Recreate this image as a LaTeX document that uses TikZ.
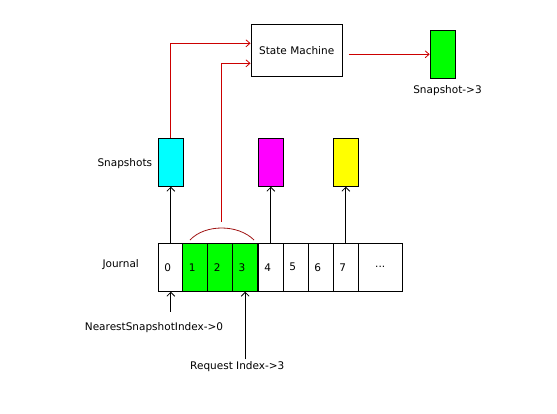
\documentclass[tikz,border=0pt]{standalone}
\usepackage{fontspec}
\setmainfont{DejaVu Sans}
\usetikzlibrary{arrows.meta}
\definecolor{lnred}{RGB}{204,0,0}
\definecolor{arcred}{RGB}{160,20,20}
\definecolor{bcyan}{RGB}{0,255,255}
\definecolor{bmag}{RGB}{255,0,255}
\definecolor{byel}{RGB}{255,255,0}
\definecolor{bgreen}{RGB}{0,255,0}
\tikzset{
  lbl/.style={font=\fontsize{10.5}{12}\selectfont, inner sep=0pt},
  cell/.style={draw=black, line width=1pt, minimum height=48pt, text width=13pt,
    inner xsep=6pt, inner ysep=0pt, align=left, font=\fontsize{10.5}{12}\selectfont},
  snapbox/.style={draw=black, line width=1pt, minimum width=25pt, minimum height=48pt, inner sep=0pt},
  blackarrow/.style={draw=black, line width=0.8pt, -{Straight Barb[length=4pt,width=8pt]}},
  redarrow/.style={draw=lnred, line width=0.8pt, -{Straight Barb[length=4pt,width=7pt]}},
}
\begin{document}
\begin{tikzpicture}[x=1pt,y=-1pt]
\useasboundingbox (0,0) rectangle (557,413);
% journal cells
\node[cell] (c0) at (170.8,267.2) {0};
\node[cell, fill=bgreen] (c1) at (195.3,267.2) {1};
\node[cell, fill=bgreen] (c2) at (220.3,267.2) {2};
\node[cell, fill=bgreen] (c3) at (245.2,267.2) {3};
\node[cell] (c4) at (270.8,267.2) {4};
\node[cell] (c5) at (295.8,267.2) {5};
\node[cell] (c6) at (320.8,267.2) {6};
\node[cell] (c7) at (345.8,267.2) {7};
\node[draw=black, line width=1pt, minimum width=44pt, minimum height=48pt, inner sep=0pt,
  font=\fontsize{10.5}{12}\selectfont] (cdots) at (380.2,267.2) {...};
% snapshot boxes
\node[snapbox, fill=bcyan] (cyan) at (170.8,162.2) {};
\node[snapbox, fill=bmag] (mag) at (270.8,162.2) {};
\node[snapbox, fill=byel] (yel) at (345.8,162.2) {};
\node[snapbox, fill=bgreen] (green) at (442.7,54.3) {};
% state machine
\node[draw=black, line width=1pt, minimum width=91.3pt, minimum height=51.7pt, inner sep=0pt,
  font=\fontsize{10.5}{12}\selectfont] (sm) at (296.7,50.2) {State Machine};
% labels
\node[lbl] (journal) at (120.7,265) {Journal};
\node[lbl] (snapshots) at (124.8,163.3) {Snapshots};
\node[lbl] (snap3) at (447.5,90.7) {Snapshot->3};
\node[lbl] (nsi) at (154,327.3) {NearestSnapshotIndex->0};
\node[lbl] (ri) at (237.3,366.7) {Request Index->3};
% coordinates
\coordinate (arcL) at (190,240);
\coordinate (arcR) at (254,240);
\coordinate (arcTop) at (221.7,221.7);
\coordinate (nsiTop) at (171.7,311.7);
\coordinate (riTop) at (244.3,359.3);
% black arrows
\draw[blackarrow] (c0.north) -- (cyan.south);
\draw[blackarrow] (c4.north) -- (mag.south);
\draw[blackarrow] (c7.north) -- (yel.south);
\draw[blackarrow] (c0.south |- nsiTop) -- (c0.south);
\draw[blackarrow] (c3.south |- riTop) -- (c3.south);
% red arrows
\draw[redarrow] (cyan.north) |- ([yshift=6.9pt]sm.west);
\draw[redarrow] (arcTop) |- ([yshift=-13.1pt]sm.west);
\draw[redarrow, shorten <=6pt] (sm.east |- green.west) -- (green.west);
% arc
\draw[arcred, line width=0.8pt] (arcL) .. controls (205,224) and (238,224) .. (arcR);
\end{tikzpicture}
\end{document}
